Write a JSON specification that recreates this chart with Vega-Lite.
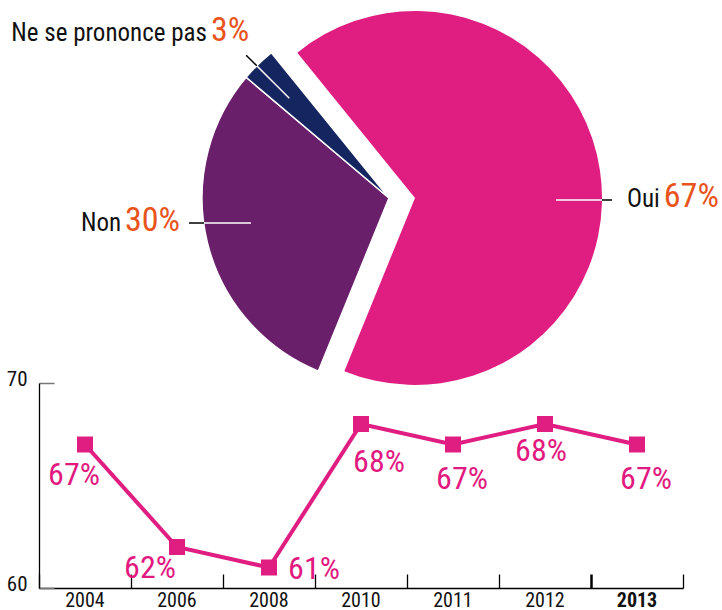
{
  "$schema": "https://vega.github.io/schema/vega-lite/v6.json",
  "padding": 0,
  "spacing": 0,
  "bounds": "flush",
  "center": true,
  "background": "white",
  "config": {
    "view": {"stroke": null},
    "font": "Roboto Condensed, Liberation Sans Narrow, DejaVu Sans Condensed, sans-serif"
  },
  "vconcat": [
    {
      "width": 722,
      "height": 383,
      "data": {
        "values": [
          {"reponse": "Oui", "value": 67},
          {"reponse": "Non", "value": 30},
          {"reponse": "Ne se prononce pas", "value": 3}
        ]
      },
      "transform": [
        {"stack": "value", "groupby": [], "sort": [{"field": "value", "order": "descending"}], "as": ["t0", "t1"]}
      ],
      "encoding": {
        "theta": {"field": "t0", "type": "quantitative", "scale": {"domain": [0, 100], "range": [-0.6807, 5.6025]}}
      },
      "layer": [
        {
          "transform": [{"filter": "datum.reponse === 'Oui'"}],
          "mark": {"type": "arc", "outerRadius": 187, "xOffset": 54, "yOffset": 6.5},
          "encoding": {
            "theta2": {"field": "t1"},
            "color": {"field": "reponse", "type": "nominal", "scale": {"domain": ["Oui", "Non", "Ne se prononce pas"], "range": ["#e01e82", "#6a1f6b", "#152560"]}, "legend": null}
          }
        },
        {
          "transform": [{"filter": "datum.reponse !== 'Oui'"}],
          "mark": {"type": "arc", "outerRadius": 187, "xOffset": 28, "yOffset": 6.5, "stroke": "white", "strokeWidth": 1.5},
          "encoding": {
            "theta2": {"field": "t1"},
            "color": {"field": "reponse", "type": "nominal", "legend": null}
          }
        },
        {
          "transform": [{"filter": "datum.reponse === 'Oui'"}],
          "mark": {"type": "arc", "innerRadius": 141, "outerRadius": 187, "xOffset": 54, "yOffset": 8.5, "thetaOffset": 2.2515, "theta2Offset": 2.2515, "fillOpacity": 0, "stroke": "white", "strokeWidth": 1.5},
          "encoding": {"theta2": {"field": "t0"}}
        },
        {
          "transform": [{"filter": "datum.reponse === 'Oui'"}],
          "mark": {"type": "arc", "innerRadius": 187, "outerRadius": 197, "xOffset": 54, "yOffset": 8.5, "thetaOffset": 2.2515, "theta2Offset": 2.2515, "fillOpacity": 0, "stroke": "black", "strokeWidth": 1.5},
          "encoding": {"theta2": {"field": "t0"}}
        },
        {
          "transform": [{"filter": "datum.reponse === 'Non'"}],
          "mark": {"type": "arc", "innerRadius": 138, "outerRadius": 185, "xOffset": 28, "yOffset": 31.5, "thetaOffset": 1.1833, "theta2Offset": 1.1833, "fillOpacity": 0, "stroke": "white", "strokeWidth": 1.5},
          "encoding": {"theta2": {"field": "t0"}}
        },
        {
          "transform": [{"filter": "datum.reponse === 'Non'"}],
          "mark": {"type": "arc", "innerRadius": 185, "outerRadius": 200, "xOffset": 28, "yOffset": 31.5, "thetaOffset": 1.1833, "theta2Offset": 1.1833, "fillOpacity": 0, "stroke": "black", "strokeWidth": 1.5},
          "encoding": {"theta2": {"field": "t0"}}
        },
        {
          "transform": [{"filter": "datum.reponse === 'Ne se prononce pas'"}],
          "mark": {"type": "arc", "innerRadius": 141, "outerRadius": 187, "xOffset": 28, "yOffset": 6.5, "thetaOffset": 0.0838, "theta2Offset": 0.0838, "fillOpacity": 0, "stroke": "white", "strokeWidth": 1.5},
          "encoding": {"theta2": {"field": "t0"}}
        },
        {
          "transform": [{"filter": "datum.reponse === 'Ne se prononce pas'"}],
          "mark": {"type": "arc", "innerRadius": 187, "outerRadius": 202, "xOffset": 28, "yOffset": 6.5, "thetaOffset": 0.0838, "theta2Offset": 0.0838, "fillOpacity": 0, "stroke": "black", "strokeWidth": 1.5},
          "encoding": {"theta2": {"field": "t0"}}
        },
        {
          "transform": [{"filter": "datum.reponse === 'Oui'"}],
          "mark": {"type": "text", "radius": 247, "xOffset": 54, "yOffset": 6.5, "thetaOffset": 2.2881, "align": "right", "baseline": "alphabetic", "dx": -2, "fontSize": 25, "color": "#111111"},
          "encoding": {"text": {"field": "reponse"}}
        },
        {
          "transform": [{"filter": "datum.reponse === 'Oui'"}],
          "mark": {"type": "text", "radius": 247, "xOffset": 54, "yOffset": 6.5, "thetaOffset": 2.2881, "align": "left", "baseline": "alphabetic", "dx": 2, "fontSize": 34, "color": "#e8541c", "text": {"expr": "datum.value + '%'"}}
        },
        {
          "transform": [{"filter": "datum.reponse === 'Non'"}],
          "mark": {"type": "text", "radius": 268, "xOffset": 28, "yOffset": 6.5, "thetaOffset": 1.0594, "align": "right", "baseline": "alphabetic", "dx": -2, "fontSize": 25, "color": "#111111"},
          "encoding": {"text": {"field": "reponse"}}
        },
        {
          "transform": [{"filter": "datum.reponse === 'Non'"}],
          "mark": {"type": "text", "radius": 268, "xOffset": 28, "yOffset": 6.5, "thetaOffset": 1.0594, "align": "left", "baseline": "alphabetic", "dx": 2, "fontSize": 34, "color": "#e8541c", "text": {"expr": "datum.value + '%'"}}
        },
        {
          "transform": [{"filter": "datum.reponse === 'Ne se prononce pas'"}],
          "mark": {"type": "text", "radius": 239, "xOffset": 28, "yOffset": 6.5, "thetaOffset": 0.0157, "align": "right", "baseline": "alphabetic", "dx": -2, "fontSize": 25, "color": "#111111"},
          "encoding": {"text": {"field": "reponse"}}
        },
        {
          "transform": [{"filter": "datum.reponse === 'Ne se prononce pas'"}],
          "mark": {"type": "text", "radius": 239, "xOffset": 28, "yOffset": 6.5, "thetaOffset": 0.0157, "align": "left", "baseline": "alphabetic", "dx": 2, "fontSize": 34, "color": "#e8541c", "text": {"expr": "datum.value + '%'"}}
        }
      ]
    },
    {
      "width": 644,
      "height": 205,
      "data": {
        "values": [
          {"annee": "2004", "value": 67},
          {"annee": "2006", "value": 62},
          {"annee": "2008", "value": 61},
          {"annee": "2010", "value": 68},
          {"annee": "2011", "value": 67},
          {"annee": "2012", "value": 68},
          {"annee": "2013", "value": 67}
        ]
      },
      "encoding": {
        "x": {
          "field": "annee", "type": "ordinal", "sort": null,
          "scale": {"type": "band", "paddingInner": 0, "paddingOuter": 0},
          "axis": {
            "title": null, "labelAngle": 0, "bandPosition": 1, "tickExtra": true,
            "tickSize": -14, "tickColor": "black",
            "tickWidth": {"condition": {"test": "datum.value === '2012'", "value": 2.5}, "value": 1.3},
            "domainColor": "black", "domainWidth": 1.5,
            "labelFontSize": 20, "labelColor": "#111111", "labelPadding": 16,
            "labelFontWeight": {"condition": {"test": "datum.value === '2013'", "value": "bold"}, "value": "normal"}
          }
        },
        "y": {
          "field": "value", "type": "quantitative",
          "scale": {"domain": [60, 70], "nice": false, "zero": false},
          "axis": {
            "title": null, "values": [60, 70], "grid": false,
            "tickSize": -15, "tickColor": "#777777", "tickWidth": 1.5,
            "domainColor": "black", "domainWidth": 1.3,
            "labelFontSize": 21, "labelColor": "#111111", "labelBaseline": "alphabetic",
            "labelPadding": 27, "labelOffset": 2
          }
        }
      },
      "layer": [
        {"mark": {"type": "line", "color": "#e01e82", "strokeWidth": 4}},
        {"mark": {"type": "point", "shape": "square", "filled": true, "size": 256, "color": "#e01e82", "opacity": 1}},
        {
          "transform": [{"filter": {"field": "annee", "oneOf": ["2011", "2013"]}}],
          "mark": {"type": "text", "align": "center", "baseline": "alphabetic", "dx": 9, "dy": 44, "fontSize": 32, "color": "#e2197f", "text": {"expr": "datum.value + '%'"}}
        },
        {
          "transform": [{"filter": {"field": "annee", "equal": "2010"}}],
          "mark": {"type": "text", "align": "center", "baseline": "alphabetic", "dx": 18, "dy": 48, "fontSize": 32, "color": "#e2197f", "text": {"expr": "datum.value + '%'"}}
        },
        {
          "transform": [{"filter": {"field": "annee", "equal": "2012"}}],
          "mark": {"type": "text", "align": "center", "baseline": "alphabetic", "dx": -4, "dy": 37, "fontSize": 32, "color": "#e2197f", "text": {"expr": "datum.value + '%'"}}
        },
        {
          "transform": [{"filter": {"field": "annee", "equal": "2004"}}],
          "mark": {"type": "text", "align": "center", "baseline": "alphabetic", "dx": -11, "dy": 40, "fontSize": 32, "color": "#e2197f", "text": {"expr": "datum.value + '%'"}}
        },
        {
          "transform": [{"filter": {"field": "annee", "equal": "2006"}}],
          "mark": {"type": "text", "align": "center", "baseline": "alphabetic", "dx": -27, "dy": 31, "fontSize": 32, "color": "#e2197f", "text": {"expr": "datum.value + '%'"}}
        },
        {
          "transform": [{"filter": {"field": "annee", "equal": "2008"}}],
          "mark": {"type": "text", "align": "center", "baseline": "alphabetic", "dx": 45, "dy": 11, "fontSize": 32, "color": "#e2197f", "text": {"expr": "datum.value + '%'"}}
        }
      ]
    }
  ]
}
